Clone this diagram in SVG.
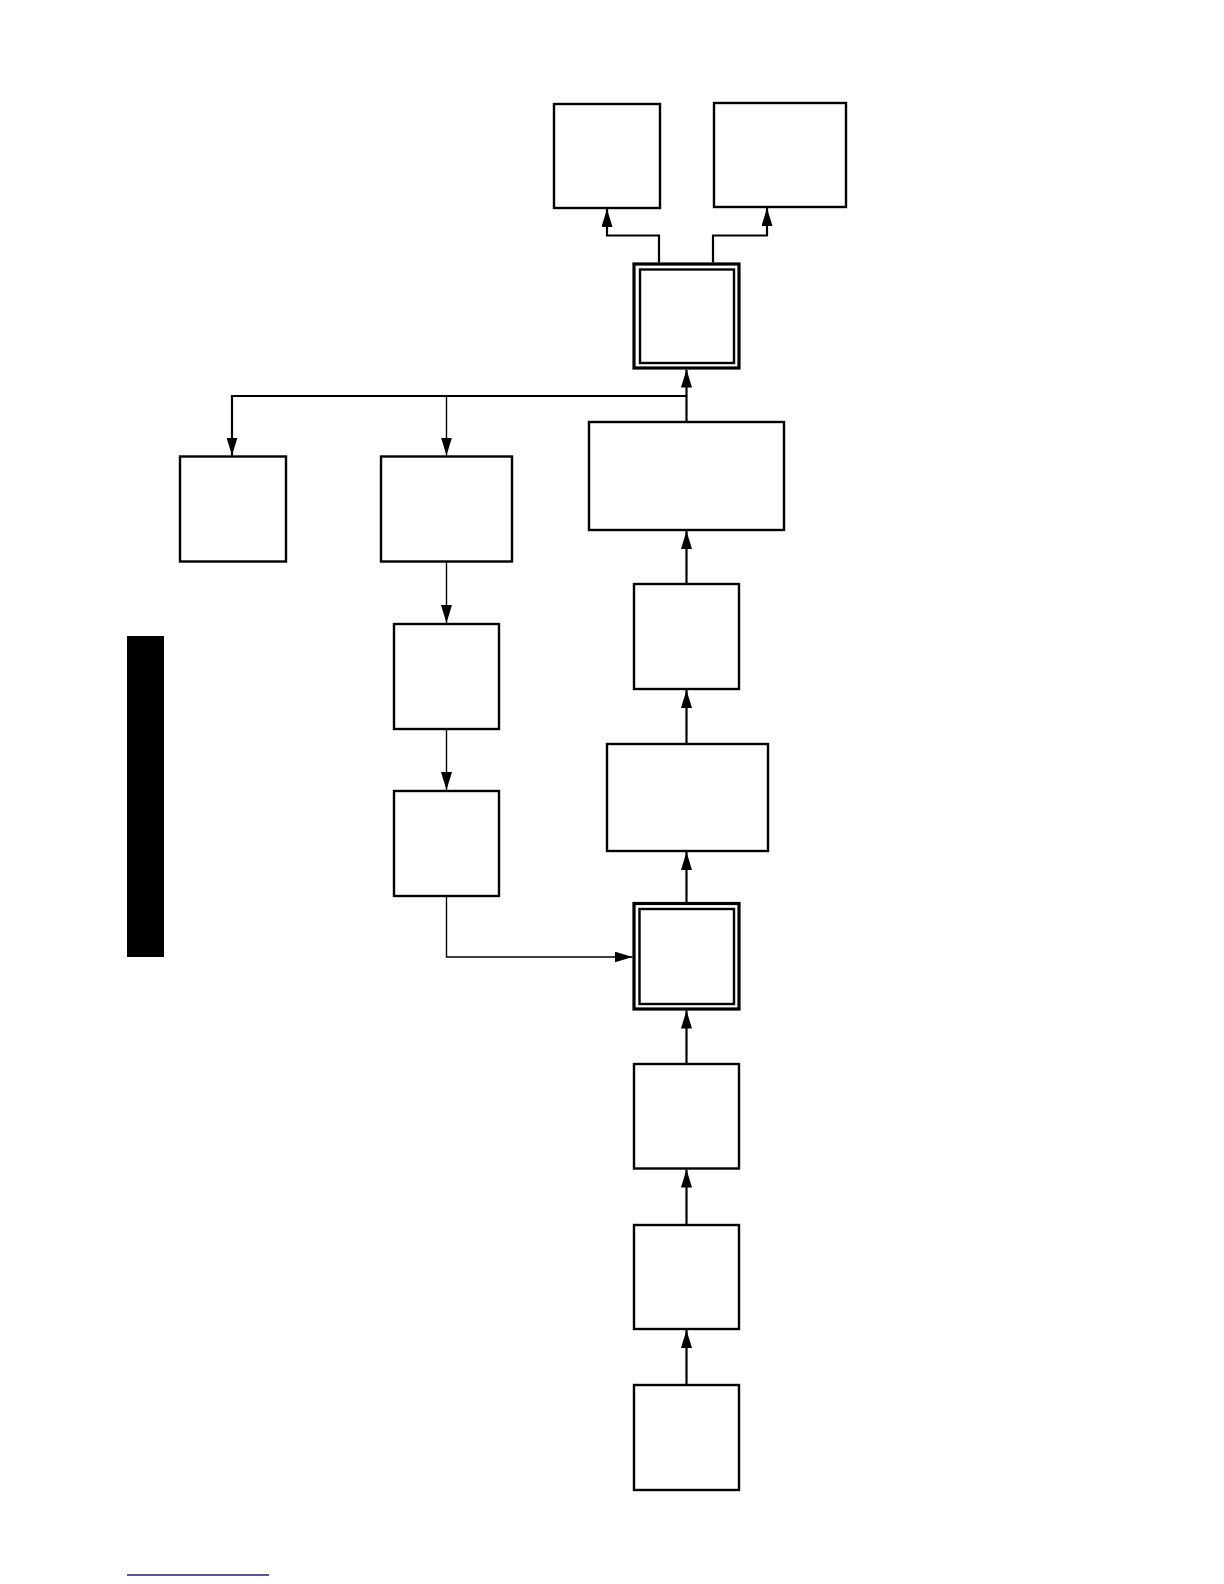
<svg xmlns="http://www.w3.org/2000/svg" width="1224" height="1584" viewBox="0 0 1224 1584">
<style>
.box{fill:#fff;stroke:#000;stroke-width:2.4}
.outer{fill:#fff;stroke:#000;stroke-width:3.2}
.c{fill:none;stroke:#000;stroke-width:2.2}
.t{fill:none;stroke:#000;stroke-width:1.4}
</style>
<defs>
<marker id="ah" markerUnits="userSpaceOnUse" markerWidth="18" markerHeight="11" refX="18" refY="5.5" orient="auto">
<path d="M0,0 L18,5.5 L0,11 z" fill="#000"/>
</marker>
</defs>
<rect x="0" y="0" width="1224" height="1584" fill="#fff"/>
<rect id="sidebar" x="127" y="636" width="37" height="321" fill="#000"/>
<line id="link" x1="127" y1="1575" x2="269" y2="1575" stroke="#1a1a9a" stroke-width="1.3"/>
<g id="connectors">
<path class="c" d="M686.5,1385 V1330" marker-end="url(#ah)"/>
<path class="c" d="M686.5,1225 V1169.5" marker-end="url(#ah)"/>
<path class="c" d="M686.5,1064 V1010.5" marker-end="url(#ah)"/>
<path class="c" d="M686.5,903 V852" marker-end="url(#ah)"/>
<path class="c" d="M686.5,744 V690" marker-end="url(#ah)"/>
<path class="c" d="M686.5,584 V531" marker-end="url(#ah)"/>
<path class="c" d="M686.5,422 V369.5" marker-end="url(#ah)"/>
<path class="c" d="M686.5,396 H232 V455.5" marker-end="url(#ah)"/>
<path class="t" d="M446.5,396 V455.5" marker-end="url(#ah)"/>
<path class="t" d="M446.5,561.5 V623" marker-end="url(#ah)"/>
<path class="t" d="M446.5,729 V790" marker-end="url(#ah)"/>
<path class="t" d="M446.5,896 V957 H632.5" marker-end="url(#ah)"/>
<path class="c" d="M659,262.5 V235.5 H607 V209" marker-end="url(#ah)"/>
<path class="c" d="M713,262.5 V235.5 H767 V208" marker-end="url(#ah)"/>
</g>
<g id="n_top_left"><rect class="box" x="554" y="104" width="106" height="104"/></g>
<g id="n_top_right"><rect class="box" x="714" y="103" width="132" height="104"/></g>
<g id="n_dbl_top"><rect class="outer" x="634" y="264" width="105" height="104"/><rect class="box" x="640" y="269.5" width="94" height="93.5"/></g>
<g id="n_wide_top"><rect class="box" x="589" y="422" width="195" height="108"/></g>
<g id="n_left"><rect class="box" x="180" y="456.5" width="106" height="105"/></g>
<g id="n_mid1"><rect class="box" x="381" y="456.5" width="131" height="105"/></g>
<g id="n_mid2"><rect class="box" x="394" y="624" width="105" height="105"/></g>
<g id="n_mid3"><rect class="box" x="394" y="791" width="105" height="105"/></g>
<g id="n_right1"><rect class="box" x="634" y="584" width="105" height="105"/></g>
<g id="n_wide2"><rect class="box" x="607" y="744" width="161" height="107"/></g>
<g id="n_dbl2"><rect class="outer" x="634" y="903.5" width="105" height="105.5"/><rect class="box" x="639.5" y="909" width="94.5" height="95"/></g>
<g id="n_r3"><rect class="box" x="634" y="1064" width="105" height="104.5"/></g>
<g id="n_r4"><rect class="box" x="634" y="1225" width="105" height="104"/></g>
<g id="n_r5"><rect class="box" x="634" y="1385" width="105" height="105"/></g>
</svg>
